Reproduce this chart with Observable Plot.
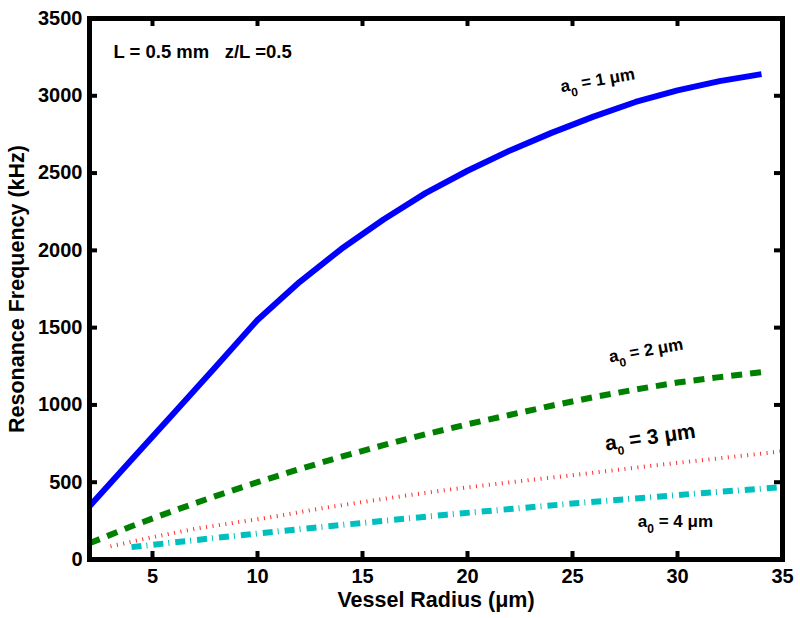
<!DOCTYPE html>
<html><head><meta charset="utf-8">
<script src="https://cdn.jsdelivr.net/npm/d3@7"></script>
<script src="https://cdn.jsdelivr.net/npm/@observablehq/plot@0.6"></script>
<style>
body{margin:0;background:#fff}
</style>
</head><body><div id="chart"></div>
<script>
// Series: resonance frequency (kHz) vs vessel radius (µm)
const radiusA1 = [2,4,6,8,10,12,14,16,18,20,22,24,26,28,30,32,34];
const freqA1   = [345,645,945,1245,1550,1795,2010,2200,2370,2515,2645,2760,2865,2960,3035,3095,3140];

const radiusA2 = [2,4,6,8,10,12,14,16,18,20,22,24,26,28,30,32,34];
const freqA2   = [105,215,315,410,500,585,665,740,810,875,935,995,1050,1100,1145,1180,1212];

const radiusA3 = [3,5,7,9,11,13,15,17,19,21,23,25,27,29,31,33,35];
const freqA3   = [85,145,198,240,282,330,372,412,450,483,515,545,578,610,640,670,700];

const radiusA4 = [4,7,10,13,16,19,22,25,28,31,35];
const freqA4   = [80,125,168,210,250,290,326,362,395,428,468];

const xTicks = [5,10,15,20,25,30,35];
const yTicks = [0,500,1000,1500,2000,2500,3000,3500];
const xLabel = "Vessel Radius (μm)";
const yLabel = "Resonance Frequency (kHz)";

// Curve labels (text and anchor position in data units)
const curveLabels = ["a0 = 1 μm","a0 = 2 μm","a0 = 3 μm","a0 = 4 μm"];
const labelX = [26.2, 28.5, 28.7, 29.9];
const labelY = [3100, 1352, 790, 246];
const noteText = "L = 0.5 mm\u00a0\u00a0\u00a0z/L =0.5";
const noteX = 3.14, noteY = 3280;

const toRows = (xs, ys) => xs.map((x, i) => ({x, y: ys[i]}));

const W = 800, H = 618, mL = 89, mR = 18, mT = 18, mB = 59;
const pw = W - mL - mR, ph = H - mT - mB;
const font = "'Liberation Sans', Arial, Helvetica, sans-serif";

const chart = Plot.plot({
  width: W, height: H,
  marginLeft: mL, marginRight: mR, marginTop: mT, marginBottom: mB,
  style: {fontFamily: font, fontSize: "20px", fontWeight: "bold", color: "black", background: "white"},
  x: {domain: [2, 35]},
  y: {domain: [0, 3500]},
  marks: [
    Plot.line(toRows(radiusA1, freqA1), {x: "x", y: "y", stroke: "#0000ff", strokeWidth: 6, strokeLinecap: "butt"}),
    Plot.line(toRows(radiusA2, freqA2), {x: "x", y: "y", stroke: "#008000", strokeWidth: 6, strokeDasharray: "11,8", strokeLinecap: "butt"}),
    Plot.line(toRows(radiusA3, freqA3), {x: "x", y: "y", stroke: "#ff2a2a", strokeWidth: 4, strokeDasharray: "1,5.5", strokeLinecap: "butt"}),
    Plot.line(toRows(radiusA4, freqA4), {x: "x", y: "y", stroke: "#00bfbf", strokeWidth: 6, strokeDasharray: "10,5,1,6", strokeLinecap: "butt"}),
    Plot.frame({stroke: "black", strokeWidth: 5}),
    Plot.tickX(xTicks, {x: d => d, stroke: "black", strokeWidth: 4, insetTop: ph - 8}),
    Plot.tickX(xTicks, {x: d => d, stroke: "black", strokeWidth: 4, insetBottom: ph - 8}),
    Plot.tickY(yTicks, {y: d => d, stroke: "black", strokeWidth: 4, insetRight: pw - 8}),
    Plot.tickY(yTicks, {y: d => d, stroke: "black", strokeWidth: 4, insetLeft: pw - 8}),
    Plot.axisX({ticks: xTicks, tickSize: 0, tickPadding: 9, fontSize: 20, fontWeight: "bold", tickFormat: d3.format("d"), label: null}),
    Plot.axisY({ticks: yTicks, tickSize: 0, tickPadding: 7, fontSize: 20, fontWeight: "bold", tickFormat: d3.format("d"), label: null}),
    Plot.text([xLabel], {frameAnchor: "bottom", text: d => d, dy: 41, lineAnchor: "middle", textAnchor: "middle", fontSize: 21.5, fontWeight: "bold"}),
    Plot.text([yLabel], {frameAnchor: "left", text: d => d, dx: -72, rotate: -90, lineAnchor: "middle", textAnchor: "middle", fontSize: 21.5, fontWeight: "bold"}),
    Plot.text([noteText], {x: () => noteX, y: () => noteY, text: d => d, textAnchor: "start", fontSize: 18.5, fontWeight: "bold"}),
    Plot.text([0], {x: () => labelX[0], y: () => labelY[0], text: () => curveLabels[0], rotate: -10, fontSize: 17, fontWeight: "bold"}),
    Plot.text([1], {x: () => labelX[1], y: () => labelY[1], text: () => curveLabels[1], rotate: -10, fontSize: 17, fontWeight: "bold"}),
    Plot.text([2], {x: () => labelX[2], y: () => labelY[2], text: () => curveLabels[2], rotate: -8, fontSize: 21, fontWeight: "bold"}),
    Plot.text([3], {x: () => labelX[3], y: () => labelY[3], text: () => curveLabels[3], rotate: 0, fontSize: 17, fontWeight: "bold"})
  ]
});

// turn "a0" into a with subscript 0
d3.select(chart).selectAll("text").each(function() {
  const t = this.textContent;
  if (!/^a0 = /.test(t)) return;
  const fs = parseFloat(this.getAttribute("font-size")) || parseFloat(getComputedStyle(this).fontSize) || 15;
  const el = d3.select(this);
  el.text(null);
  el.append("tspan").text("a");
  el.append("tspan").attr("dy", (0.42 * fs).toFixed(1)).attr("font-size", (0.8 * fs).toFixed(1)).text("0");
  el.append("tspan").attr("dy", (-0.42 * fs).toFixed(1)).text(t.slice(2));
});

document.getElementById("chart").appendChild(chart);
</script>
</body></html>
